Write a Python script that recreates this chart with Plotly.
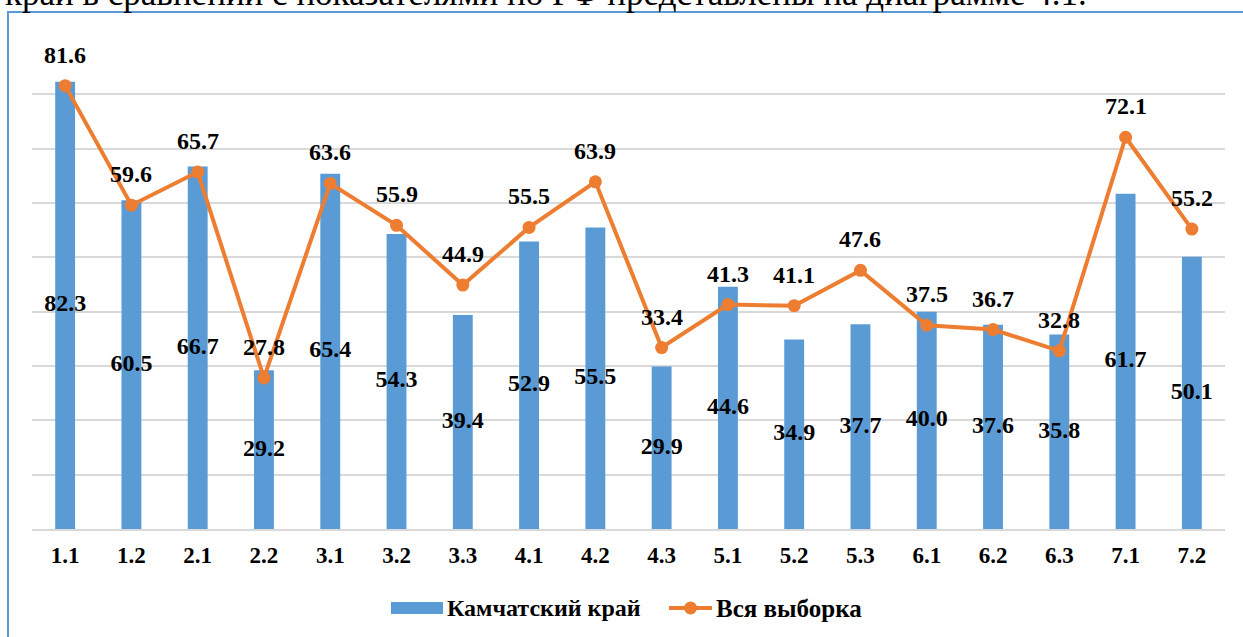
import plotly.graph_objects as go

categories = ["1.1", "1.2", "2.1", "2.2", "3.1", "3.2", "3.3", "4.1", "4.2", "4.3",
              "5.1", "5.2", "5.3", "6.1", "6.2", "6.3", "7.1", "7.2"]
kamchatka = [82.3, 60.5, 66.7, 29.2, 65.4, 54.3, 39.4, 52.9, 55.5, 29.9,
             44.6, 34.9, 37.7, 40.0, 37.6, 35.8, 61.7, 50.1]
all_sample = [81.6, 59.6, 65.7, 27.8, 63.6, 55.9, 44.9, 55.5, 63.9, 33.4,
              41.3, 41.1, 47.6, 37.5, 36.7, 32.8, 72.1, 55.2]
series_names = ["Камчатский край", "Вся выборка"]
header_text = "край в сравнении с показателями по РФ представлены на диаграмме 4.1."

W, H = 1243, 637
ML, MR, MT, MB = 32, 18, 40, 108
PW, PH = W - ML - MR, H - MT - MB

BLUE = "#5B9BD5"
ORANGE = "#ED7D31"
FONT = "Liberation Serif, Times New Roman, serif"


def px(x):
    return (x - ML) / PW


def py(y):
    return (H - MB - y) / PH


fig = go.Figure()
fig.add_trace(go.Bar(
    x=categories, y=kamchatka, name=series_names[0],
    marker=dict(color=BLUE, line=dict(width=0)),
    showlegend=False,
))
fig.add_trace(go.Scatter(
    x=categories, y=[v / 2 for v in kamchatka], mode="text",
    text=[f"{v:.1f}" for v in kamchatka],
    textfont=dict(family=FONT, size=24, color="black", weight="bold"),
    showlegend=False, hoverinfo="skip", cliponaxis=False,
))
fig.add_trace(go.Scatter(
    x=categories, y=all_sample, name=series_names[1], mode="lines+markers",
    line=dict(color=ORANGE, width=4),
    marker=dict(color=ORANGE, size=13),
    showlegend=False, cliponaxis=False,
))

annotations = []
for i, v in enumerate(all_sample):
    annotations.append(dict(
        x=i, y=v, xref="x", yref="y", text=f"{v:.1f}", showarrow=False,
        yshift=31, font=dict(family=FONT, size=24, color="black", weight="bold"),
    ))

# header text (partially cut off at top)
annotations.append(dict(
    x=px(3), y=py(15), xref="paper", yref="paper", xanchor="left", yanchor="bottom",
    text=header_text, showarrow=False,
    font=dict(family=FONT, size=35, color="black"),
))

# custom legend
annotations.append(dict(
    x=px(445), y=py(608), xref="paper", yref="paper", xanchor="left", yanchor="middle",
    text=series_names[0], showarrow=False,
    font=dict(family=FONT, size=24, color="black", weight="bold"),
))
annotations.append(dict(
    x=px(714), y=py(608), xref="paper", yref="paper", xanchor="left", yanchor="middle",
    text=series_names[1], showarrow=False,
    font=dict(family=FONT, size=25, color="black", weight="bold"),
))

shapes = [
    # chart border
    dict(type="rect", xref="paper", yref="paper",
         x0=px(8), x1=px(1260), y0=py(12), y1=py(660),
         line=dict(color=BLUE, width=2), fillcolor="rgba(0,0,0,0)", layer="below"),
    # legend markers
    dict(type="rect", xref="paper", yref="paper",
         x0=px(391), x1=px(443), y0=py(602), y1=py(614),
         line=dict(width=0), fillcolor=BLUE),
    dict(type="line", xref="paper", yref="paper",
         x0=px(669), x1=px(712), y0=py(608), y1=py(608),
         line=dict(color=ORANGE, width=4)),
    dict(type="circle", xref="paper", yref="paper",
         x0=px(684), x1=px(697), y0=py(601.5), y1=py(614.5),
         line=dict(width=0), fillcolor=ORANGE),
]

fig.update_layout(
    width=W, height=H,
    margin=dict(l=ML, r=MR, t=MT, b=MB),
    paper_bgcolor="white", plot_bgcolor="white",
    bargap=0.7,
    showlegend=False,
    annotations=annotations,
    shapes=shapes,
    font=dict(family=FONT, color="black"),
)
fig.update_xaxes(
    type="category", range=[-0.5, len(categories) - 0.5],
    showgrid=False, showline=True, linecolor="#D9D9D9", linewidth=2,
    ticks="", tickfont=dict(family=FONT, size=23, color="black", weight="bold"),
    ticklabelstandoff=4,
)
fig.update_yaxes(
    range=[0, 90], dtick=10, showgrid=True, gridcolor="#D9D9D9", gridwidth=2,
    showticklabels=False, zeroline=False, showline=False,
)

fig.write_html("out.html", config={"displayModeBar": False},
               post_script="document.body.style.margin='0';")
